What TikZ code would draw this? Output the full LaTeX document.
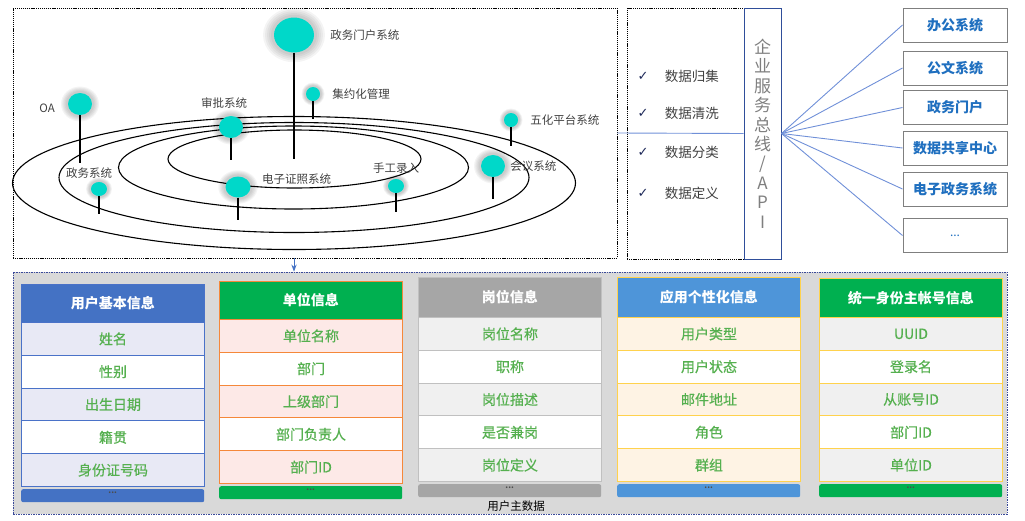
\documentclass[tikz,border=0pt]{standalone}
\usepackage{fontspec}
\setmainfont{Noto Sans CJK SC}
\newfontfamily\tickfont{DejaVu Sans}
\newfontfamily\medfont[FakeBold=0.5]{Noto Sans CJK SC}
\usetikzlibrary{arrows.meta,positioning,shapes.geometric}
\definecolor{tealdot}{HTML}{00D8C9}
\definecolor{inkgray}{HTML}{404040}
\definecolor{busgray}{HTML}{7F7F7F}
\definecolor{busline}{HTML}{7090D8}
\definecolor{busblue}{HTML}{2F4E9A}
\definecolor{sysblue}{HTML}{1F6FBF}
\definecolor{ticknavy}{HTML}{1F2A5A}
\definecolor{fieldgreen}{HTML}{55B04F}
\definecolor{panel}{HTML}{D9D9D9}
\definecolor{panelline}{HTML}{3A4A9A}
\definecolor{hdrblue}{HTML}{4472C4}
\definecolor{hdrgreen}{HTML}{00B050}
\definecolor{hdrgray}{HTML}{A6A6A6}
\definecolor{hdrsky}{HTML}{4E95D9}
\definecolor{lineblue}{HTML}{4A72C8}
\definecolor{lineorange}{HTML}{F5883A}
\definecolor{linegray}{HTML}{C0C0C0}
\definecolor{linegold}{HTML}{FFD24D}
\definecolor{rowlav}{HTML}{E8E9F5}
\definecolor{rowpink}{HTML}{FDE9E7}
\definecolor{rowgray}{HTML}{F0F0F0}
\definecolor{rowcream}{HTML}{FEF3E4}
% name, left x, top y, header height, header colour, line colour, row fill, header text, rows
\newcommand\mdtable[9]{%
 \node[tblhead,fill=#5,draw=#6,minimum height=#4,anchor=north west] (#1) at (#2,#3) {#8};
 \foreach \f [count=\i] in {#9}{
  \ifodd\i\relax\def\rowfill{#7}\else\def\rowfill{white}\fi
  \node[tblcell,fill=\rowfill,draw=#6,anchor=north west] (#1-\i) at (#2,{#3+#4+(\i-1)*32.8}) {\f};
 }
 \node[tblfoot,fill=#5,anchor=north west] (#1-foot) at (#2,{#3+#4+167}) {...};
}

\begin{document}
\begin{tikzpicture}[x=1pt,y=-1pt,>=Stealth,
 dashbox/.style={draw,dash pattern=on 1.2pt off 0.9pt,line width=0.7pt,inner sep=0pt},
 orbitline/.style={line width=1.1pt},
 planet/.style={ellipse,fill=tealdot,inner sep=0pt},
 halo/.style={fill=black,fill opacity=0.045},
 stem/.style={line width=1.4pt},
 planetname/.style={inner sep=0pt,text=inkgray,font=\fontsize{11.5}{13}\selectfont},
 checkmark/.style={inner sep=0pt,text=ticknavy,font=\tickfont\fontsize{13}{14}\selectfont},
 task/.style={inner sep=0pt,text=inkgray,font=\fontsize{13.5}{15}\selectfont},
 busline/.style={draw=busline,line width=0.9pt},
 sysbox/.style={draw=busgray,line width=1pt,minimum width=104pt,minimum height=34pt,inner sep=0pt,
  text=sysblue,font=\bfseries\fontsize{14}{16}\selectfont},
 tblhead/.style={minimum width=183pt,inner sep=0pt,line width=0.8pt,text=white,font=\bfseries\fontsize{14}{16}\selectfont},
 tblcell/.style={minimum width=183pt,minimum height=32.8pt,inner sep=0pt,line width=1pt,text=fieldgreen,font=\medfont\fontsize{14}{16}\selectfont},
 tblfoot/.style={minimum width=183pt,minimum height=13pt,inner sep=0pt,text depth=6pt,rounded corners=2pt,
  text=black!70,font=\bfseries\fontsize{8}{8}\selectfont}]
\useasboundingbox (0,0) rectangle (1025,520);

% application landscape
\node[dashbox,minimum width=604pt,minimum height=250pt] (mapbox) at (315,133) {};
\coordinate (orbit) at (294,183);
\draw[orbitline] (orbit) ellipse [x radius=281.5pt,y radius=66.5pt];
\draw[orbitline] (294,177.5) ellipse [x radius=235pt,y radius=55pt];
\draw[orbitline] (293.5,167.5) ellipse [x radius=175pt,y radius=41.5pt];
\draw[orbitline] (294.5,159) ellipse [x radius=126.5pt,y radius=29pt];
\foreach \n/\x/\y/\w/\h/\e in {portal/294/35/40/35/159,oa/80/104/24/22/163,approve/231/127/24/22/160,
  gov/99/189/16/14/214,license/238/187/25/21/220,intensive/313/94/14/14/119,
  fivefold/511/120/14/14/146,manual/396/186/16/14/212,meeting/493/166/24/22/199}{
 \foreach \s in {1.5,1.4,1.3,1.2,1.1}
  \fill[halo] (\x,\y) ellipse [x radius={\s*\w/2*1pt+1pt},y radius={\s*\h/2*1pt+1pt}];
 \node[planet,minimum width=\w,minimum height=\h] (\n) at (\x,\y) {};
 \coordinate (\n-foot) at (\x,\e);
 \draw[stem] (\n.south) -- (\n-foot);
}
\node[planetname,right=16pt of portal] (portal-name) {政务门户系统};
\node[planetname,anchor=east] (oa-name) at (55,108) {OA};
\node[planetname] (approve-name) at (224,103) {审批系统};
\node[planetname] (gov-name) at (89,173) {政务系统};
\node[planetname,anchor=west] (license-name) at (262,179) {电子证照系统};
\node[planetname,right=12pt of intensive] (intensive-name) {集约化管理};
\node[planetname,right=12pt of fivefold] (fivefold-name) {五化平台系统};
\node[planetname,above=5pt of manual] (manual-name) {手工录入};
\node[planetname,right=5pt of meeting] (meeting-name) {会议系统};

% data cleaning and service bus
\node[dashbox,minimum width=154pt,minimum height=251pt] (cleanbox) at (704,133.5) {};
\node[draw=busblue,line width=1pt,minimum width=37pt,minimum height=251pt,inner sep=0pt,align=center,
 text=busgray,font=\fontsize{17}{19.4}\selectfont] (bus) at (762.5,133.5) {企\\业\\服\\务\\总\\线\\/\\A\\P\\I};
\draw[busline] (mapbox.east) -- (bus.west);
\foreach \t/\y [count=\i] in {数据归集/76,数据清洗/113,数据分类/152,数据定义/193}{
 \node[checkmark] (tick\i) at (643,\y) {✓};
 \node[task,right=16pt of tick\i] (task\i) {\t};
}
\foreach \t/\y [count=\i] in {办公系统/25,公文系统/68,政务门户/107.5,数据共享中心/148,电子政务系统/189}{
 \node[sysbox] (sys\i) at (955,\y) {\t};
 \draw[busline] (bus.east) -- (sys\i.west);
}
\node[sysbox,font=\fontsize{12}{14}\selectfont] (sys6) at (955,235.5) {...};
\draw[busline] (bus.east) -- (sys6.west);

% user master data
\node[draw=panelline,dash pattern=on 1.5pt off 1pt,line width=0.8pt,fill=panel,
 minimum width=994pt,minimum height=242pt] (masterdata) at (510,393) {};
\draw[->,draw=hdrblue,line width=0.9pt] (orbit |- mapbox.south) -- (orbit |- masterdata.north);
\mdtable{basic}{21}{284}{38}{hdrblue}{lineblue}{rowlav}{用户基本信息}{姓名,性别,出生日期,籍贯,身份证号码}
\mdtable{unit}{219}{281}{38}{hdrgreen}{lineorange}{rowpink}{单位信息}{单位名称,部门,上级部门,部门负责人,部门ID}
\mdtable{post}{418}{277}{40}{hdrgray}{linegray}{rowgray}{岗位信息}{岗位名称,职称,岗位描述,是否兼岗,岗位定义}
\mdtable{app}{617}{277}{40}{hdrsky}{linegold}{rowcream}{应用个性化信息}{用户类型,用户状态,邮件地址,角色,群组}
\mdtable{account}{819}{278}{39}{hdrgreen}{linegold}{rowgray}{统一身份主帐号信息}{UUID,登录名,从账号ID,部门ID,单位ID}
\node[inner sep=0pt,font=\fontsize{11.5}{13}\selectfont] (mdlabel) at (516,506) {用户主数据};
\end{tikzpicture}
\end{document}
